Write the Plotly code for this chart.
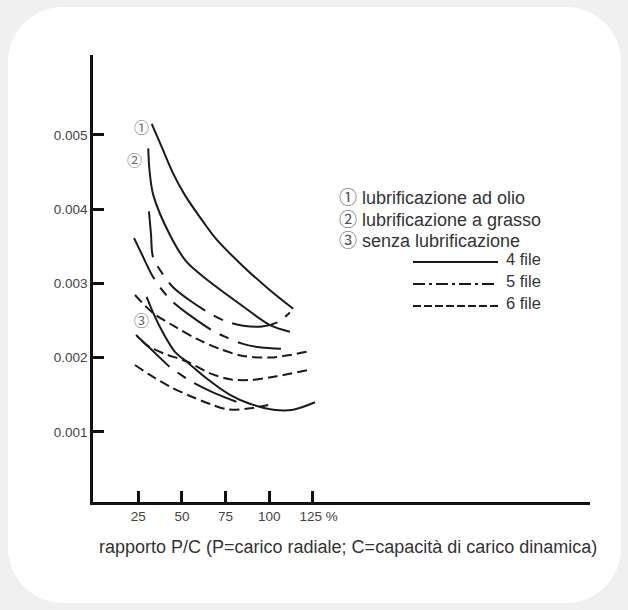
import plotly.graph_objects as go

# ---------------- data ----------------
# x: rapporto P/C [%], y: coefficiente di attrito
x_oil_4 = [32.7, 38.4, 45.0, 51.7, 62.2, 69.9, 85.1, 100.4, 113.7]
y_oil_4 = [0.00515, 0.00484, 0.00448, 0.00419, 0.00383, 0.00359, 0.00323, 0.00291, 0.00266]
x_oil_5 = [31.1, 32.3, 33.4, 38.6, 44.9, 55.8, 67.2, 75.2, 85.1, 95.8, 105.0, 111.8]
y_oil_5 = [0.00397, 0.00366, 0.00336, 0.00314, 0.00295, 0.00275, 0.00258, 0.00249, 0.00243, 0.00242, 0.00248, 0.00261]
x_oil_6 = [23.1, 33.4, 45.4, 58.6, 71.8, 84.9, 100.4, 111.8, 123.3]
y_oil_6 = [0.002845, 0.002603, 0.002428, 0.002253, 0.002118, 0.002024, 0.002003, 0.002037, 0.002091]

x_gr_4 = [30.7, 31.4, 33.6, 43.2, 52.7, 66.1, 85.1, 100.4, 111.8]
y_gr_4 = [0.00482, 0.00453, 0.00419, 0.00365, 0.00329, 0.00302, 0.00269, 0.00244, 0.00235]
x_gr_5 = [22.6, 27.7, 32.9, 38.0, 44.9, 55.8, 67.2, 74.9, 84.4, 94.7, 106.7]
y_gr_5 = [0.00361, 0.00336, 0.00311, 0.00293, 0.00275, 0.00255, 0.00237, 0.00228, 0.00219, 0.00214, 0.00212]
x_gr_6 = [27.0, 29.8, 39.3, 52.7, 66.1, 77.5, 88.9, 104.2, 123.3]
y_gr_6 = [0.00223, 0.00217, 0.00206, 0.00195, 0.00179, 0.00171, 0.00170, 0.00175, 0.00184]

x_no_4 = [29.8, 33.6, 39.3, 46.0, 53.6, 64.2, 77.5, 88.9, 102.3, 113.7, 126.2]
y_no_4 = [0.00282, 0.00260, 0.00233, 0.00208, 0.00193, 0.00172, 0.00150, 0.00138, 0.00130, 0.00130, 0.00140]
x_no_5 = [23.7, 33.4, 43.1, 48.3, 55.8, 69.0, 81.5]
y_no_5 = [0.002306, 0.002091, 0.001875, 0.001788, 0.001673, 0.001519, 0.001404]
x_no_6 = [23.1, 31.7, 43.2, 54.6, 66.1, 76.4, 87.8, 99.4]
y_no_6 = [0.001902, 0.001768, 0.001610, 0.001485, 0.001377, 0.001303, 0.001316, 0.001364]

x_tickvals = [25, 50, 75, 100, 125]
x_ticktext = ["25", "50", "75", "100", "\u00a0\u00a0\u00a0125 %"]
y_tickvals = [0.001, 0.002, 0.003, 0.004, 0.005]
y_ticktext = ["0.001", "0.002", "0.003", "0.004", "0.005"]

legend_rows = ["① lubrificazione ad olio", "② lubrificazione a grasso", "③ senza lubrificazione"]
row_labels = ["4 file", "5 file", "6 file"]
x_title = "rapporto P/C (P=carico radiale; C=capacità di carico dinamica)"

# ---------------- styling ----------------
W, H = 628, 610
L, R, T, B = 93, 38, 55, 108
PW, PH = W - L - R, H - T - B
INK = "#1a1a1a"
FONT = "Liberation Sans, Arial, Noto Sans CJK JP"
CJK = "Noto Sans CJK JP, Liberation Sans"

DASH_4 = "solid"
DASH_5 = "46px,10px,10px,10px"
DASH_6 = "10px,5px"


def px(xp):
    return (xp - L) / PW


def py(yp):
    return (H - B - yp) / PH


fig = go.Figure()

series = [
    (x_oil_4, y_oil_4, DASH_4), (x_oil_5, y_oil_5, DASH_5), (x_oil_6, y_oil_6, DASH_6),
    (x_gr_4, y_gr_4, DASH_4), (x_gr_5, y_gr_5, DASH_5), (x_gr_6, y_gr_6, DASH_6),
    (x_no_4, y_no_4, DASH_4), (x_no_5, y_no_5, DASH_5), (x_no_6, y_no_6, DASH_6),
]
for xs, ys, dash in series:
    fig.add_trace(go.Scatter(
        x=xs, y=ys, mode="lines",
        line=dict(color=INK, width=2.0, dash=dash, shape="spline", smoothing=0.9),
        showlegend=False, hoverinfo="skip"))

# white rounded card behind everything
x0, y0, x1, y1, r = 8, 7, 621, 603, 55
k = 0.5523 * r
path = (
    f"M {px(x0 + r)},{py(y0)} L {px(x1 - r)},{py(y0)} "
    f"C {px(x1 - r + k)},{py(y0)} {px(x1)},{py(y0 + r - k)} {px(x1)},{py(y0 + r)} "
    f"L {px(x1)},{py(y1 - r)} "
    f"C {px(x1)},{py(y1 - r + k)} {px(x1 - r + k)},{py(y1)} {px(x1 - r)},{py(y1)} "
    f"L {px(x0 + r)},{py(y1)} "
    f"C {px(x0 + r - k)},{py(y1)} {px(x0)},{py(y1 - r + k)} {px(x0)},{py(y1 - r)} "
    f"L {px(x0)},{py(y0 + r)} "
    f"C {px(x0)},{py(y0 + r - k)} {px(x0 + r - k)},{py(y0)} {px(x0 + r)},{py(y0)} Z"
)
shapes = [dict(type="path", xref="paper", yref="paper", path=path,
               fillcolor="white", line=dict(width=0), layer="below")]

# legend samples
for i, dash in enumerate(["solid", "12px,4px,3px,4px", "8px,3px"]):
    yy = py(262 + 22 * i)
    shapes.append(dict(type="line", xref="paper", yref="paper",
                       x0=px(413), x1=px(498), y0=yy, y1=yy,
                       line=dict(color=INK, width=2.2, dash=dash)))

annotations = []
for i, txt in enumerate(legend_rows):
    num, rest = txt.split(" ", 1)
    annotations.append(dict(
        xref="paper", yref="paper", x=px(337), y=py(198 + 21.5 * i),
        xanchor="left", yanchor="middle", showarrow=False,
        text=f"<span style='color:#555'>{num}</span> {rest}",
        font=dict(family=FONT, size=18, color="#333")))
for i, txt in enumerate(row_labels):
    annotations.append(dict(
        xref="paper", yref="paper", x=px(504), y=py(259 + 22 * i),
        xanchor="left", yanchor="middle", showarrow=False, text=txt,
        font=dict(family=FONT, size=16.5, color="#333")))

# circled numbers on the curves
for txt, xv, yv in [("①", 27.0, 0.005112), ("②", 23.1, 0.004664), ("③", 27.0, 0.002518)]:
    annotations.append(dict(x=xv, y=yv, xref="x", yref="y", text=txt, showarrow=False,
                            font=dict(family=CJK, size=15, color="#666")))

annotations.append(dict(
    xref="paper", yref="paper", x=px(97), y=py(547), xanchor="left", yanchor="middle",
    showarrow=False, text=x_title, font=dict(family=FONT, size=18, color="#333")))

axis_common = dict(showline=True, linecolor="#111", linewidth=2.5, ticks="inside",
                   ticklen=11, tickwidth=2.5, tickcolor="#111", showgrid=False,
                   zeroline=False, tickfont=dict(family=FONT, size=13.5, color="#444"))

fig.update_layout(
    width=W, height=H, margin=dict(l=L, r=R, t=T, b=B, pad=0),
    paper_bgcolor="#f0f0f0", plot_bgcolor="rgba(0,0,0,0)",
    xaxis=dict(range=[-0.92, 283.6], tickvals=x_tickvals, ticktext=x_ticktext, **axis_common),
    yaxis=dict(range=[0.0000572, 0.006077], tickvals=y_tickvals, ticktext=y_ticktext, **axis_common),
    shapes=shapes, annotations=annotations, showlegend=False,
)

fig.write_html("out.html",
               config={"displayModeBar": False},
               post_script="document.body.style.margin='0px';"
                           "document.body.style.background='#f0f0f0';")
